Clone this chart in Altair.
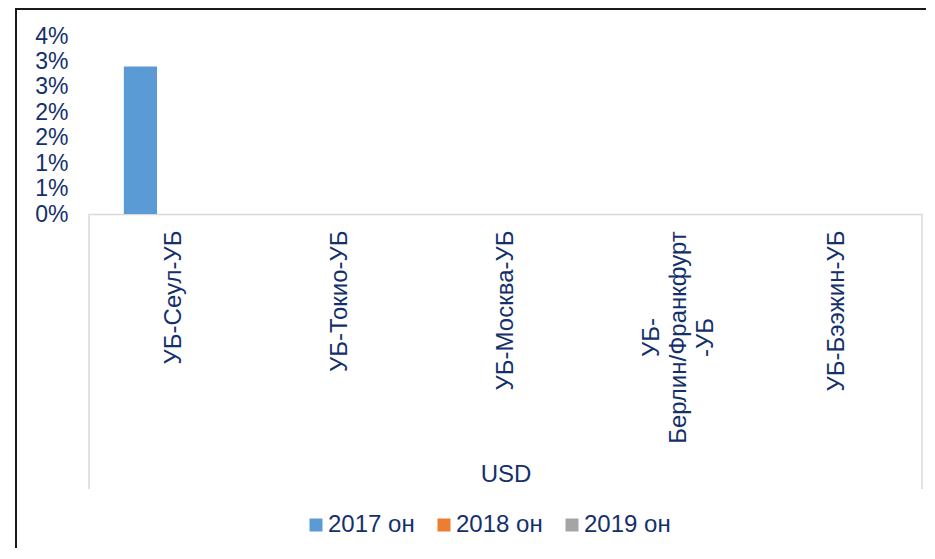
import altair as alt
import pandas as pd

categories = ["УБ-Сеул-УБ", "УБ-Токио-УБ", "УБ-Москва-УБ", "УБ-|Берлин/Франкфурт|-УБ", "УБ-Бээжин-УБ"]
series = ["2017 он", "2018 он", "2019 он"]
v2017 = [0.029, 0, 0, 0, 0]
v2018 = [0, 0, 0, 0, 0]
v2019 = [0, 0, 0, 0, 0]
colors = ["#5B9BD5", "#ED7D31", "#A5A5A5"]
y_ticks = [0, 0.005, 0.01, 0.015, 0.02, 0.025, 0.03, 0.035]
group_label = "USD"

rows = []
for s, vals in zip(series, [v2017, v2018, v2019]):
    for c, v in zip(categories, vals):
        rows.append({"cat": c, "series": s, "value": v})
df = pd.DataFrame(rows)

W, H = 833, 178
PAD_L, PAD_T, PAD_R, PAD_B = 81, 28, 4, 334
FONT = "Liberation Sans"
TXT = "#14306B"
GRAY = "#D9D9D9"
BORDER = "#1A1A1A"
IS_MULTI = "indexof(datum.value, '|') >= 0"

bars = alt.Chart(df).mark_bar().encode(
    x=alt.X("cat:N", sort=categories,
            scale=alt.Scale(paddingInner=0.4, paddingOuter=0.21),
            axis=alt.Axis(
                title=group_label, titleFont=FONT, titleFontSize=24, titleColor=TXT,
                titleFontWeight="normal", titleBaseline="middle", titleY=260,
                labelAngle=-90, labelFont=FONT, labelFontSize=24, labelColor=TXT,
                labelExpr="split(datum.label, '|')",
                labelLineHeight=27,
                labelAlign={"condition": {"test": IS_MULTI, "value": "center"}, "value": "right"},
                labelPadding={"condition": {"test": IS_MULTI, "value": 123}, "value": 16},
                labelOffset={"condition": {"test": IS_MULTI, "value": -19}, "value": 0},
                labelLimit=400,
                ticks=False, domainColor=GRAY, domainWidth=1.5,
            )),
    xOffset=alt.XOffset("series:N", sort=series, scale=alt.Scale(paddingInner=0, paddingOuter=0)),
    y=alt.Y("value:Q", scale=alt.Scale(domain=[0, 0.035], nice=False),
            axis=alt.Axis(values=y_ticks, format=".0%", title=None, grid=False,
                          domain=False, ticks=False, labelFont=FONT, labelFontSize=23,
                          labelColor=TXT, labelPadding=21)),
    color=alt.Color("series:N", sort=series,
                    scale=alt.Scale(domain=series, range=colors),
                    legend=alt.Legend(title=None, orient="none", direction="horizontal",
                                      legendX=215, legendY=477,
                                      symbolType="square", symbolSize=169, symbolStrokeWidth=0,
                                      labelFont=FONT, labelFontSize=24, labelColor=TXT,
                                      labelOffset=0, columnPadding=17)),
)

edge_df = pd.DataFrame({"e": [0]})
left_rule = alt.Chart(edge_df).mark_rule(color=GRAY, strokeWidth=1.5).encode(
    x=alt.value(0), y=alt.value(H), y2=alt.value(H + 275))
right_rule = alt.Chart(edge_df).mark_rule(color=GRAY, strokeWidth=1.5).encode(
    x=alt.value(W), y=alt.value(H), y2=alt.value(H + 275))
border_top = alt.Chart(edge_df).mark_rule(color=BORDER, strokeWidth=2).encode(
    x=alt.value(-73), x2=alt.value(W + PAD_R), y=alt.value(-27))
border_left = alt.Chart(edge_df).mark_rule(color=BORDER, strokeWidth=2).encode(
    x=alt.value(-73), y=alt.value(-28), y2=alt.value(H + PAD_B))

chart = alt.layer(border_top, border_left, bars, left_rule, right_rule).properties(
    width=W, height=H,
    view=alt.ViewBackground(stroke="transparent", strokeWidth=0),
    autosize=alt.AutoSizeParams(type="none"),
    padding={"left": PAD_L, "top": PAD_T, "right": PAD_R, "bottom": PAD_B},
).configure_view(stroke="transparent", strokeWidth=0).configure(background="white")

chart.save("out.html", embed_options={"renderer": "svg", "actions": False})
